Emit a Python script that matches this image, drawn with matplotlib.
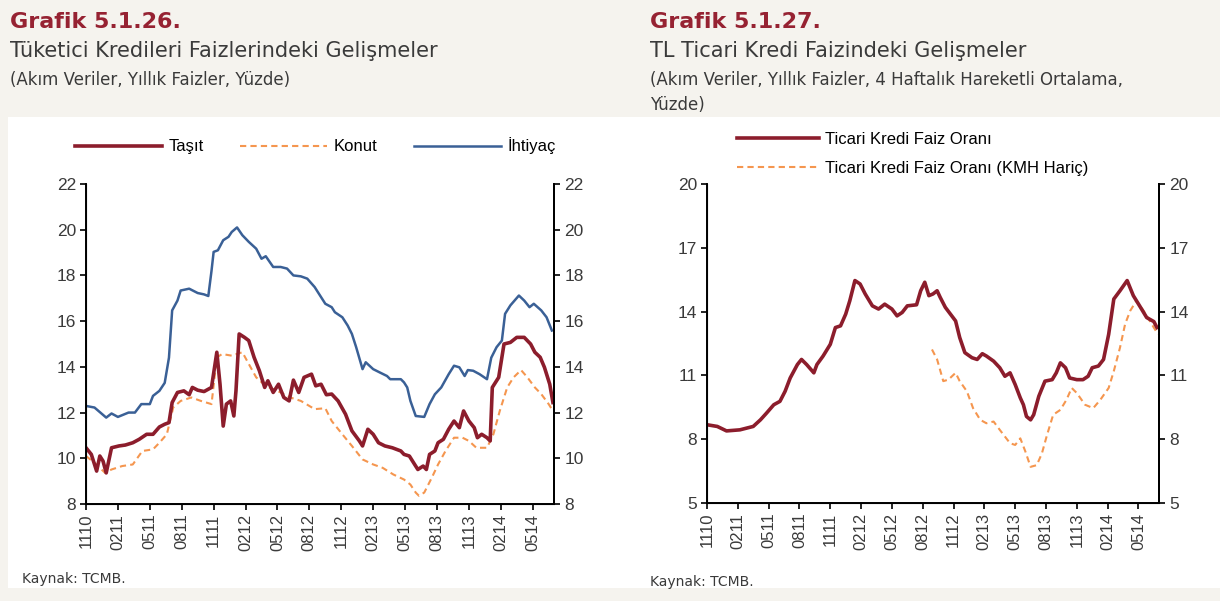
import matplotlib
matplotlib.use("Agg")
import matplotlib.pyplot as plt
from matplotlib.patches import Rectangle

# --- data: months since Nov 2010 (0 = 11/10) ---
tick_labels = ["1110", "0211", "0511", "0811", "1111", "0212", "0512", "0812",
               "1112", "0213", "0513", "0813", "1113", "0214", "0514"]

ihtiyac_m = [0, 0.8, 1.9, 2.4, 3.0, 4.0, 4.6, 5.2, 6.0, 6.3, 6.9, 7.4, 7.8, 8.1, 8.6, 8.9,
             9.7, 10.5, 11.1, 11.5, 11.8, 12.0, 12.4, 12.9, 13.4, 13.7, 14.2, 14.7, 15.3,
             16.0, 16.5, 16.9, 17.6, 18.3, 18.9, 19.5, 20.2, 20.8, 21.5, 21.8, 22.5, 23.1,
             23.4, 24.1, 24.6, 25.0, 25.4, 26.0, 26.3, 27.0, 27.6, 28.3, 28.6, 29.6, 29.9,
             30.2, 30.5, 31.0, 31.8, 32.3, 32.8, 33.4, 34.1, 34.6, 35.1, 35.6, 35.9, 36.4,
             37.0, 37.7, 38.1, 38.6, 39.1, 39.4, 39.9, 40.7, 41.2, 41.7, 42.1, 42.8, 43.3, 43.8]
ihtiyac_v = [12.29, 12.22, 11.78, 11.96, 11.81, 12.0, 12.0, 12.37, 12.37, 12.73, 12.95, 13.3,
             14.4, 16.47, 16.9, 17.34, 17.42, 17.23, 17.17, 17.1, 18.2, 19.03, 19.1, 19.54,
             19.69, 19.9, 20.1, 19.76, 19.47, 19.17, 18.73, 18.84, 18.37, 18.37, 18.3, 18.0,
             17.96, 17.86, 17.49, 17.27, 16.76, 16.61, 16.39, 16.17, 15.81, 15.44, 14.86,
             13.9, 14.2, 13.9, 13.76, 13.6, 13.46, 13.46, 13.32, 13.1, 12.51, 11.85, 11.81,
             12.37, 12.8, 13.1, 13.68, 14.05, 13.98, 13.6, 13.86, 13.83, 13.68, 13.46, 14.4,
             14.86, 15.15, 16.32, 16.69, 17.12, 16.9, 16.61, 16.76, 16.47, 16.17, 15.59]

tasit_m = [0, 0.5, 1.0, 1.3, 1.6, 1.9, 2.4, 3.1, 3.7, 4.4, 5.0, 5.7, 6.3, 6.9, 7.4, 7.8, 8.1,
           8.6, 9.2, 9.7, 10.0, 10.5, 11.1, 11.8, 12.3, 12.6, 12.9, 13.2, 13.6, 13.9, 14.1,
           14.4, 14.9, 15.3, 15.8, 16.3, 16.8, 17.1, 17.6, 18.1, 18.6, 19.1, 19.5, 20.0,
           20.5, 21.2, 21.6, 22.1, 22.6, 23.1, 23.7, 24.4, 25.0, 25.7, 26.0, 26.5, 27.0,
           27.5, 28.1, 28.8, 29.6, 29.9, 30.4, 30.9, 31.2, 31.7, 32.0, 32.3, 32.8, 33.1,
           33.6, 34.1, 34.6, 35.1, 35.5, 36.0, 36.5, 36.8, 37.2, 37.7, 38.0, 38.2, 38.8,
           39.3, 39.9, 40.5, 41.2, 41.8, 42.2, 42.7, 43.1, 43.6, 43.9]
tasit_v = [10.46, 10.17, 9.44, 10.1, 9.88, 9.36, 10.46, 10.54, 10.58, 10.68, 10.83, 11.05,
           11.05, 11.37, 11.49, 11.56, 12.44, 12.88, 12.95, 12.78, 13.1, 12.98, 12.92, 13.1,
           14.64, 13.24, 11.41, 12.37, 12.51, 11.85, 12.95, 15.44, 15.29, 15.15, 14.42,
           13.83, 13.1, 13.39, 12.88, 13.24, 12.66, 12.51, 13.42, 12.88, 13.54, 13.68,
           13.17, 13.24, 12.78, 12.81, 12.51, 11.93, 11.2, 10.76, 10.54, 11.27, 11.05,
           10.68, 10.54, 10.46, 10.32, 10.17, 10.1, 9.73, 9.51, 9.66, 9.51, 10.17, 10.32,
           10.68, 10.83, 11.27, 11.63, 11.34, 12.07, 11.63, 11.34, 10.9, 11.05, 10.9, 10.76,
           13.1, 13.54, 15.0, 15.07, 15.29, 15.29, 15.0, 14.64, 14.42, 13.98, 13.24, 12.44]

konut_m = [0, 0.8, 1.8, 2.4, 3.4, 4.4, 5.3, 6.3, 6.9, 7.6, 8.2, 8.9, 9.9, 10.8, 11.8, 12.3,
           12.8, 13.7, 14.7, 15.3, 16.0, 16.9, 18.3, 19.2, 20.2, 21.5, 22.5, 23.1, 24.1,
           25.0, 26.0, 27.0, 27.9, 28.9, 29.9, 30.5, 31.0, 31.3, 31.8, 32.5, 33.1, 33.8,
           34.6, 35.4, 36.0, 36.7, 37.7, 38.3, 38.9, 39.6, 40.2, 40.9, 41.5, 42.2, 42.8,
           43.5, 43.9]
konut_v = [10.1, 9.8, 9.36, 9.51, 9.66, 9.73, 10.32, 10.39, 10.68, 11.05, 12.22, 12.51,
           12.66, 12.51, 12.37, 14.42, 14.56, 14.49, 14.64, 14.13, 13.54, 13.17, 12.88,
           12.66, 12.51, 12.15, 12.19, 11.63, 11.05, 10.54, 9.95, 9.73, 9.58, 9.29, 9.07,
           8.85, 8.5, 8.36, 8.5, 9.14, 9.73, 10.32, 10.9, 10.9, 10.76, 10.46, 10.46, 11.05,
           12.07, 13.1, 13.54, 13.86, 13.54, 13.1, 12.81, 12.37, 12.07]

ticari_m = [0, 1.0, 1.9, 3.2, 4.5, 5.2, 5.8, 6.5, 7.1, 7.6, 8.1, 8.8, 9.2, 9.7, 10.4, 10.7,
            11.3, 12.0, 12.5, 13.0, 13.5, 13.9, 14.4, 14.9, 15.4, 16.1, 16.7, 17.3, 18.0,
            18.5, 19.0, 19.5, 20.4, 20.8, 21.2, 21.6, 22.0, 22.4, 22.7, 23.2, 23.7, 24.2,
            24.6, 25.1, 25.8, 26.3, 26.8, 27.2, 27.9, 28.5, 29.0, 29.5, 30.0, 30.5, 30.8,
            31.1, 31.5, 31.8, 32.3, 32.9, 33.6, 34.0, 34.4, 34.9, 35.3, 36.0, 36.6, 37.1,
            37.5, 38.1, 38.6, 39.1, 39.6, 40.2, 40.9, 41.5, 42.2, 42.8, 43.5, 43.8]
ticari_v = [8.68, 8.6, 8.39, 8.44, 8.6, 8.91, 9.23, 9.62, 9.78, 10.25, 10.88, 11.51, 11.75,
            11.51, 11.12, 11.51, 11.91, 12.46, 13.25, 13.33, 13.88, 14.51, 15.46, 15.3,
            14.83, 14.27, 14.12, 14.35, 14.12, 13.8, 13.96, 14.27, 14.32, 14.98, 15.38,
            14.75, 14.83, 14.98, 14.67, 14.2, 13.88, 13.56, 12.78, 12.07, 11.83, 11.75,
            12.02, 11.91, 11.67, 11.36, 10.96, 11.12, 10.57, 9.94, 9.62, 9.07, 8.91, 9.15,
            10.02, 10.73, 10.8, 11.12, 11.59, 11.36, 10.88, 10.8, 10.8, 10.96, 11.36, 11.44,
            11.75, 12.93, 14.59, 14.98, 15.46, 14.75, 14.2, 13.72, 13.53, 13.25]

kmh_m = [21.9, 22.4, 23.0, 23.5, 24.2, 24.6, 25.3, 25.9, 26.6, 27.2, 27.9, 28.5, 29.5, 30.0,
         30.5, 31.0, 31.5, 32.1, 32.6, 33.1, 33.7, 34.4, 35.0, 35.5, 36.0, 36.8, 37.6, 38.3,
         39.1, 39.6, 40.2, 40.7, 41.2, 41.8, 42.5, 43.1, 43.9]
kmh_v = [12.22, 11.75, 10.73, 10.8, 11.12, 10.73, 10.25, 9.46, 8.91, 8.75, 8.83, 8.44, 7.81,
         7.73, 8.04, 7.41, 6.7, 6.78, 7.33, 8.2, 9.15, 9.38, 9.86, 10.41, 10.17, 9.62, 9.46,
         9.86, 10.41, 11.2, 12.3, 13.41, 14.04, 14.51, 14.04, 13.56, 12.93]

# --- styling ---
BG = "#f5f3ee"
RED = "#8c1d2c"
BLUE = "#3a6096"
ORANGE = "#f5964f"
TITLE_RED = "#962232"
TXT = "#3a3a3a"

fig = plt.figure(figsize=(12.2, 6.01), dpi=100, facecolor=BG)
# white panel behind both charts
fig.patches.append(Rectangle((8 / 1220, 13 / 601), 1 - 8 / 1220, (588 - 117) / 601,
                             transform=fig.transFigure, facecolor="white",
                             edgecolor="none", zorder=-5))


def fx(px):
    return px / 1220


def fy(py):
    return 1 - py / 601


def style_axes(ax, ylim, yticks):
    ax.set_xlim(0, 44)
    ax.set_ylim(*ylim)
    ax.set_yticks(yticks)
    ax.set_xticks([3 * i for i in range(len(tick_labels))])
    ax.set_xticklabels(tick_labels, rotation=90, fontsize=12, color=TXT,
                       family="Liberation Sans")
    ax.spines["top"].set_visible(False)
    for s in ["left", "right", "bottom"]:
        ax.spines[s].set_linewidth(1.4)
        ax.spines[s].set_color("black")
    ax.tick_params(axis="both", direction="out", length=4, width=1.2, pad=3)
    ax.tick_params(axis="y", labelsize=12.5, labelcolor=TXT)
    for lab in ax.get_yticklabels():
        lab.set_family("Liberation Sans")
    ax2 = ax.twinx()
    ax2.set_ylim(*ylim)
    ax2.set_yticks(yticks)
    ax2.spines["top"].set_visible(False)
    ax2.spines["right"].set_linewidth(1.4)
    ax2.tick_params(axis="y", direction="out", length=4, width=1.2, labelsize=12.5,
                    labelcolor=TXT)
    for lab in ax2.get_yticklabels():
        lab.set_family("Liberation Sans")
    ax.set_facecolor("none")


# --- left chart ---
ax1 = fig.add_axes([fx(86), fy(504), fx(554) - fx(86), fy(184) - fy(504)])
l1, = ax1.plot(tasit_m, tasit_v, color=RED, lw=2.6, label="Taşıt", zorder=3)
l2, = ax1.plot(konut_m, konut_v, color=ORANGE, lw=1.5, ls=(0, (3, 2)), label="Konut", zorder=2)
l3, = ax1.plot(ihtiyac_m, ihtiyac_v, color=BLUE, lw=1.8, label="İhtiyaç", zorder=2)
style_axes(ax1, (8, 22), [8, 10, 12, 14, 16, 18, 20, 22])
fig.legend(handles=[l1, l2, l3], loc="center left", bbox_to_anchor=(fx(60), fy(146)),
           ncol=3, frameon=False, handlelength=5.2, handletextpad=0.4, columnspacing=2.2,
           prop={"family": "Liberation Sans", "size": 12})

# --- right chart ---
ax3 = fig.add_axes([fx(707), fy(503), fx(1159) - fx(707), fy(184) - fy(503)])
r1, = ax3.plot(ticari_m, ticari_v, color=RED, lw=2.6, label="Ticari Kredi Faiz Oranı", zorder=3)
r2, = ax3.plot(kmh_m, kmh_v, color=ORANGE, lw=1.5, ls=(0, (3, 2)),
               label="Ticari Kredi Faiz Oranı (KMH Hariç)", zorder=2)
style_axes(ax3, (5, 20), [5, 8, 11, 14, 17, 20])
fig.legend(handles=[r1, r2], loc="center left", bbox_to_anchor=(fx(722), fy(154)),
           ncol=1, frameon=False, handlelength=4.9, handletextpad=0.4, labelspacing=0.85,
           prop={"family": "Liberation Sans", "size": 12})

# --- titles ---
for x0, num, sub, note in [
    (10, "Grafik 5.1.26.", "Tüketici Kredileri Faizlerindeki Gelişmeler",
     "(Akım Veriler, Yıllık Faizler, Yüzde)"),
    (650, "Grafik 5.1.27.", "TL Ticari Kredi Faizindeki Gelişmeler",
     "(Akım Veriler, Yıllık Faizler, 4 Haftalık Hareketli Ortalama,\nYüzde)"),
]:
    fig.text(fx(x0), fy(22), num, fontsize=16, fontweight="bold", color=TITLE_RED,
             va="center", family="DejaVu Sans")
    fig.text(fx(x0), fy(51), sub, fontsize=15, color=TXT, va="center", family="DejaVu Sans")
    fig.text(fx(x0), fy(71), note, fontsize=12, color=TXT, va="top", family="DejaVu Sans",
             linespacing=1.5)

fig.text(fx(22), fy(579), "Kaynak: TCMB.", fontsize=10, color=TXT, va="center")
fig.text(fx(650), fy(582), "Kaynak: TCMB.", fontsize=10, color=TXT, va="center")

fig.savefig("out.png", dpi=100, facecolor=BG)
